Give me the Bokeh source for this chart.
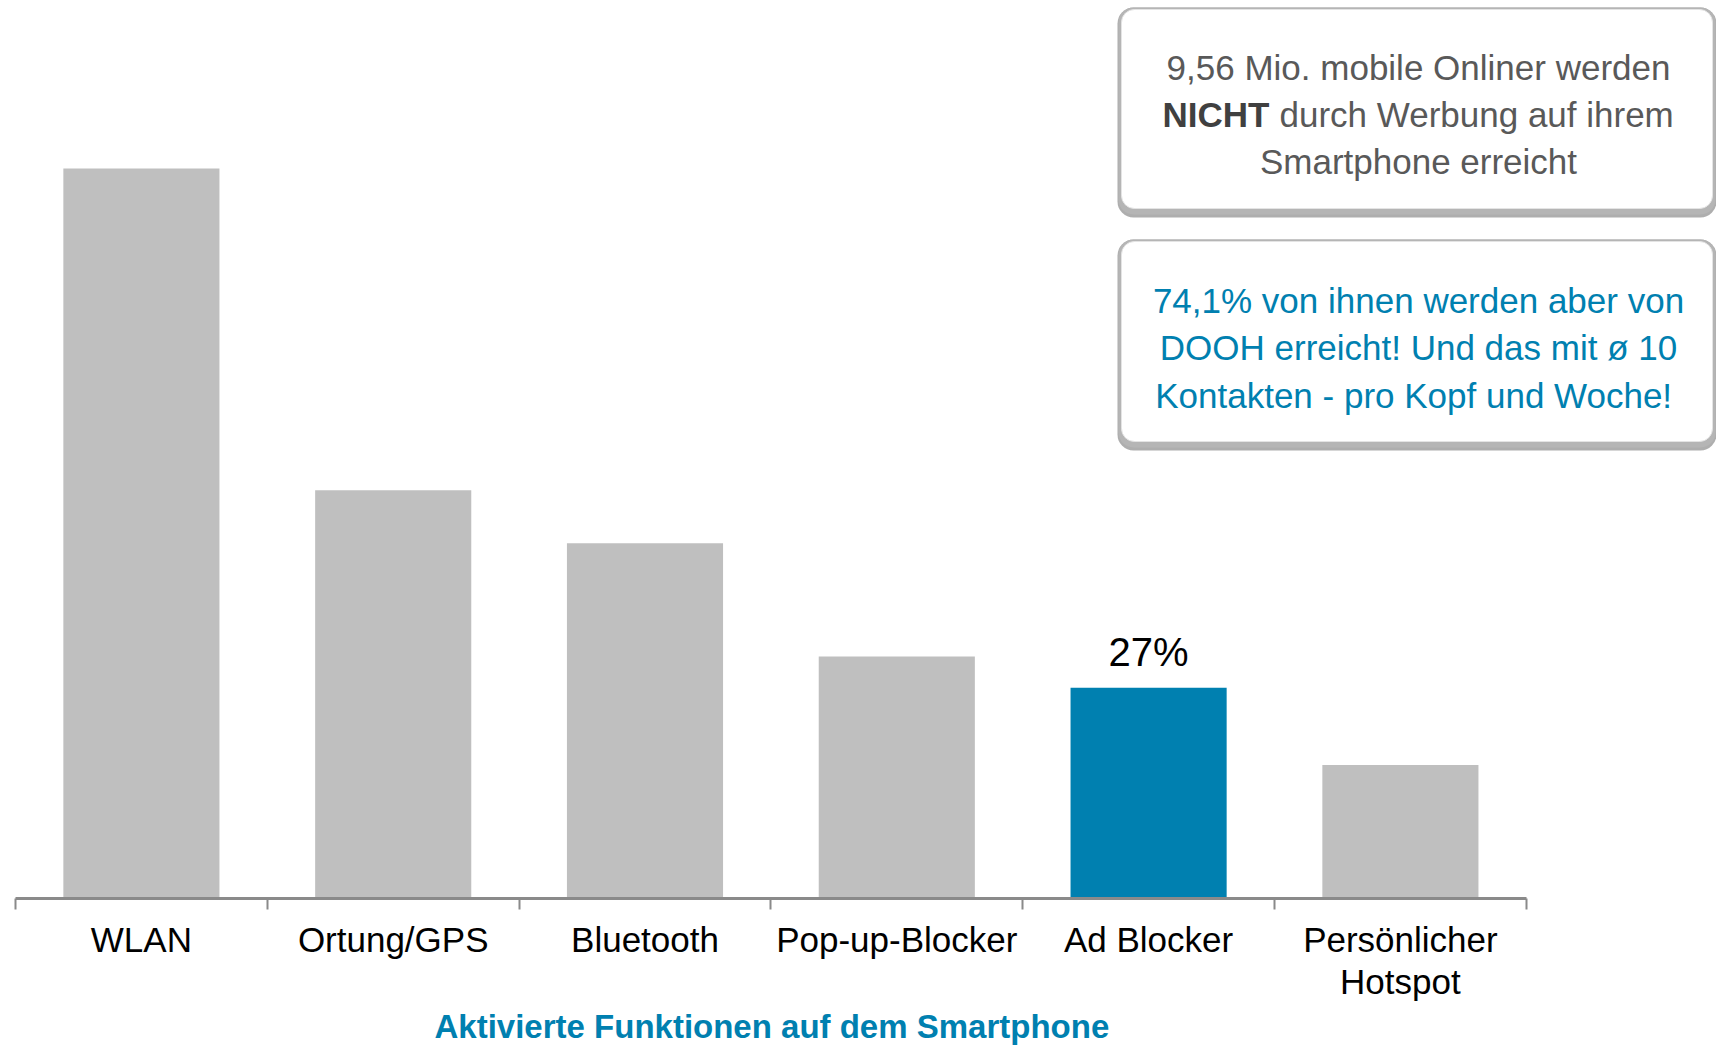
from bokeh.plotting import figure
from bokeh.models import Range1d, LinearAxis, FixedTicker, Title
from bokeh.core.properties import value
from bokeh.embed import file_html
from bokeh.resources import INLINE

# ---- data ----
categories = ["WLAN", "Ortung/GPS", "Bluetooth", "Pop-up-Blocker", "Ad Blocker", "Persönlicher\nHotspot"]
shares = [93.5, 52.3, 45.5, 31.0, 27.0, 17.1]
highlight_category = "Ad Blocker"
highlight_label = "27%"
axis_title = "Aktivierte Funktionen auf dem Smartphone"
box1_line1 = "9,56 Mio. mobile Onliner werden"
box1_bold = "NICHT"
box1_line2 = "durch Werbung auf ihrem"
box1_line3 = "Smartphone erreicht"
box2_lines = ["74,1% von ihnen werden aber von",
              "DOOH erreicht! Und das mit ø 10",
              "Kontakten - pro Kopf und  Woche!"]

# ---- styling / layout ----
FONT = "Liberation Sans"
GREY = "#BFBFBF"
BLUE = "#0080B0"
W, FH = 1716, 898
CAT_PX = 251.8
X0 = -15 / CAT_PX
X1 = X0 + W / CAT_PX
YMAX = FH / 7.807
PX_PER_PCT = FH / YMAX


def dx(px):
    return X0 + px / CAT_PX


def dy(py):
    return (FH - py) / PX_PER_PCT


p = figure(frame_width=W, frame_height=FH, x_range=Range1d(X0, X1), y_range=Range1d(0, YMAX),
           x_axis_type=None, y_axis_type=None, output_backend="svg", toolbar_location=None,
           min_border=0, outline_line_color=None, background_fill_color="white")

n = len(categories)
xs = [i + 0.5 for i in range(n)]
colors = [BLUE if c == highlight_category else GREY for c in categories]
p.vbar(x=xs, top=shares, width=0.62, bottom=0, fill_color=colors, line_color=None)

hi = categories.index(highlight_category)
p.text(x=[xs[hi]], y=[shares[hi] + 36 / PX_PER_PCT], text=[highlight_label],
       text_font=value(FONT), text_font_size="40px", text_color="black",
       text_align="center", text_baseline="alphabetic")

# axes
tick_axis = LinearAxis(ticker=FixedTicker(ticks=list(range(n + 1))), bounds=(0, n),
                       axis_line_color="#8A8A8A", axis_line_width=3,
                       major_tick_line_color="#8A8A8A", major_tick_line_width=2,
                       major_tick_out=11, major_tick_in=0, minor_tick_line_color=None,
                       major_label_overrides={i: "" for i in range(n + 1)},
                       major_label_text_font_size="1px", major_label_standoff=0)
label_axis = LinearAxis(ticker=FixedTicker(ticks=xs), bounds=(0, n),
                        major_label_overrides={x: c for x, c in zip(xs, categories)},
                        axis_line_color=None, major_tick_line_color=None, major_tick_out=0,
                        major_tick_in=0, minor_tick_line_color=None,
                        major_label_text_font=FONT, major_label_text_font_size="35px",
                        major_label_text_color="black", major_label_standoff=10,
                        major_label_text_line_height=1.1)
p.add_layout(tick_axis, "below")
p.add_layout(label_axis, "below")

# axis title, placed under the category axis (not the whole canvas)
title = Title(text=axis_title, align="left", offset=434,
              text_font=FONT, text_font_size="33px", text_color=BLUE,
              text_font_style="bold", standoff=2)
p.add_layout(title, "below")

# callout boxes (pixel coordinates on the canvas)
BOX_L, BOX_R = 1117, 1716
boxes = [(7, 217), (239, 450)]
for (T, B) in boxes:
    p.quad(left=[dx(BOX_L)], right=[dx(BOX_R)], top=[dy(T)], bottom=[dy(B)],
           fill_color="#8C8C8C", fill_alpha=0.7, line_color=None, border_radius=16)
    p.quad(left=[dx(BOX_L + 1)], right=[dx(BOX_R - 1)], top=[dy(T)], bottom=[dy(B - 3)],
           fill_color="#B5B5B5", line_color=None, border_radius=15)
    p.quad(left=[dx(BOX_L + 4)], right=[dx(BOX_R - 4)], top=[dy(T + 2)], bottom=[dy(B - 9)],
           fill_color="white", line_color="#E4E4E4", line_width=1, border_radius=13)

CX = 1418
common = dict(text_font=value(FONT), text_font_size="35px", text_baseline="middle")
p.text(x=[dx(CX), dx(CX)], y=[dy(67), dy(161)], text=[box1_line1, box1_line3],
       text_color="#595959", text_align="center", **common)
nicht_left = CX - 256
p.text(x=[dx(nicht_left)], y=[dy(114)], text=[box1_bold], text_color="#404040",
       text_align="left", text_font_style="bold", **common)
p.text(x=[dx(nicht_left + 107 + 10)], y=[dy(114)], text=[box1_line2], text_color="#595959",
       text_align="left", **common)
p.text(x=[dx(CX)] * 3, y=[dy(300), dy(347), dy(395)], text=box2_lines,
       text_color=BLUE, text_align="center", **common)

open("out.html", "w").write(file_html(p, INLINE))
